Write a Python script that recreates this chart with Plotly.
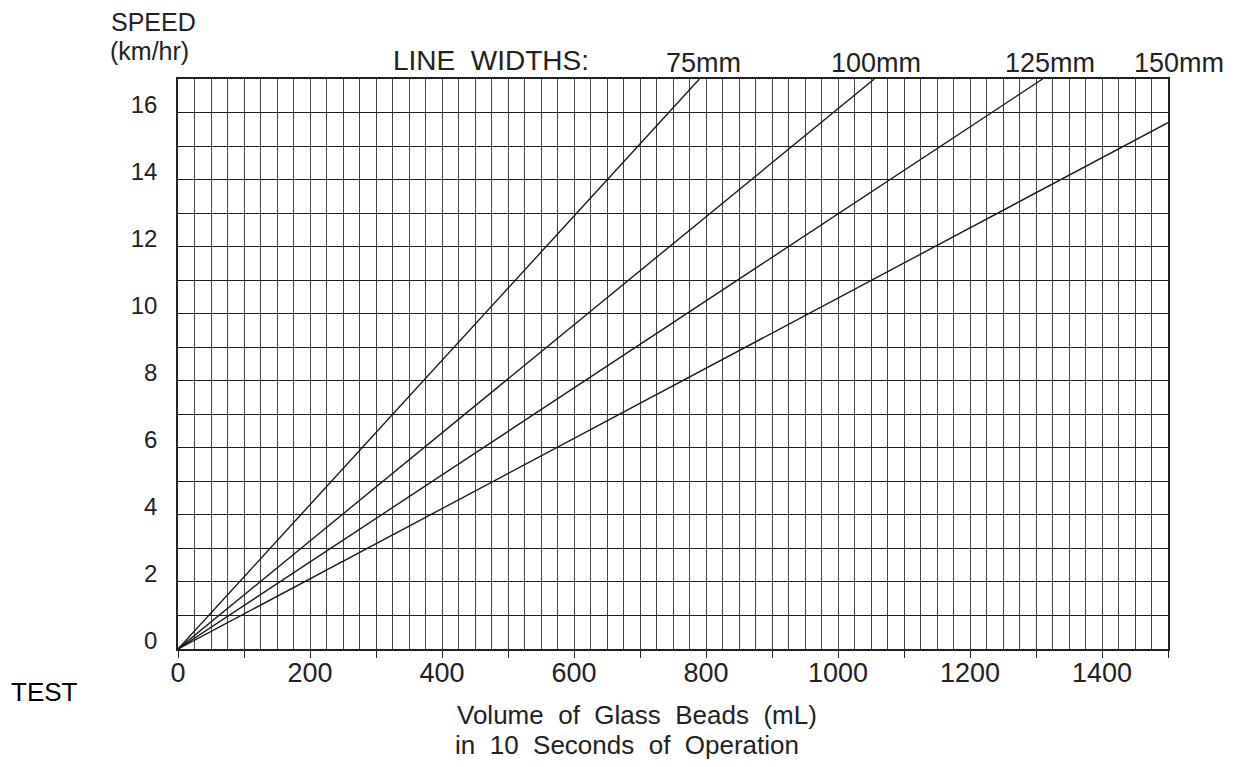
import plotly.graph_objects as go

# ---- data ----
line_widths = ["75mm", "100mm", "125mm", "150mm"]
volume_start = [0, 0, 0, 0]
speed_start = [0, 0, 0, 0]
volume_end = [790, 1055, 1310, 1500]
speed_end = [17, 17, 17, 15.7]

x_tick_values = [0, 100, 200, 300, 400, 500, 600, 700, 800, 900, 1000, 1100, 1200, 1300, 1400, 1500]
x_tick_labels = ["0", "", "200", "", "400", "", "600", "", "800", "", "1000", "", "1200", "", "1400", ""]
y_tick_values = [0, 2, 4, 6, 8, 10, 12, 14, 16]
y_tick_labels = ["0", "2", "4", "6", "8", "10", "12", "14", "16"]

# page geometry (the page body adds an 8px offset)
PAGE_W, PAGE_H, OFF = 1238, 767, 8
W, H = PAGE_W - OFF, PAGE_H - OFF
plot_left, plot_right, plot_top, plot_bottom = 178, 1168, 79, 649   # page pixels
L = plot_left - OFF
T = plot_top - OFF
R = W - (plot_right - OFF)
B = H - (plot_bottom - OFF)
INK = "#222222"
FONT = "Liberation Sans, Arial, Helvetica, sans-serif"


def px(x):
    return (x - OFF - L) / (W - L - R)


def py(y):
    return (H - B - (y - OFF)) / (H - T - B)


fig = go.Figure()
for name, x0, y0, x1, y1 in zip(line_widths, volume_start, speed_start, volume_end, speed_end):
    fig.add_trace(go.Scatter(
        x=[x0, x1], y=[y0, y1], mode="lines", name=name,
        line=dict(color="#1a1a1a", width=1.4), showlegend=False, hoverinfo="skip",
    ))

annotations = []
annotations.append(dict(text="SPEED", x=px(109), y=py(22), xanchor="left", yanchor="middle",
                        font=dict(size=25, color=INK, family=FONT)))
annotations.append(dict(text="(km/hr)", x=px(108), y=py(51), xanchor="left", yanchor="middle",
                        font=dict(size=25, color=INK, family=FONT)))
annotations.append(dict(text="LINE  WIDTHS:", x=px(491), y=py(61), xanchor="center", yanchor="middle",
                        font=dict(size=28, color=INK, family=FONT)))
label_x = [703, 876, 1050, 1179]
for name, lx in zip(line_widths, label_x):
    annotations.append(dict(text=name, x=px(lx), y=py(63), xanchor="center", yanchor="middle",
                            font=dict(size=27, color=INK, family=FONT)))
annotations.append(dict(text="Volume  of  Glass  Beads  (mL)", x=px(637), y=py(715), xanchor="center",
                        yanchor="middle", font=dict(size=26, color=INK, family=FONT)))
annotations.append(dict(text="in  10  Seconds  of  Operation", x=px(627), y=py(745), xanchor="center",
                        yanchor="middle", font=dict(size=26, color=INK, family=FONT)))
annotations.append(dict(text="TEST", x=px(9), y=py(692), xanchor="left", yanchor="middle",
                        font=dict(size=26, color="#000000", family="Arial, Liberation Sans, sans-serif")))
for a in annotations:
    a.update(xref="paper", yref="paper", showarrow=False)

fig.update_layout(
    width=W, height=H,
    margin=dict(l=L, r=R, t=T, b=B, autoexpand=False),
    paper_bgcolor="white", plot_bgcolor="white",
    font=dict(family=FONT, color=INK),
    annotations=annotations,
)
fig.update_xaxes(
    range=[0, 1500], tickmode="array", tickvals=x_tick_values, ticktext=x_tick_labels,
    ticks="outside", ticklen=7, tickcolor=INK, tickwidth=1.2,
    ticklabelstandoff=-8,
    tickfont=dict(size=27, color=INK, family=FONT),
    showgrid=False, zeroline=False,
    showline=True, linecolor=INK, linewidth=1.6, mirror=True,
    minor=dict(dtick=25, showgrid=True, gridcolor="#444444", gridwidth=1, ticks=""),
    fixedrange=True,
)
fig.update_yaxes(
    range=[0, 17], tickmode="array", tickvals=y_tick_values, ticktext=y_tick_labels,
    ticks="outside", ticklen=14, tickcolor="rgba(0,0,0,0)",
    ticklabelshift=-8,
    tickfont=dict(size=24, color=INK, family=FONT),
    showgrid=True, gridcolor="#1e1e1e", gridwidth=1.4, zeroline=False,
    showline=True, linecolor=INK, linewidth=1.6, mirror=True,
    minor=dict(dtick=1, showgrid=True, gridcolor="#1e1e1e", gridwidth=1.4, ticks=""),
    fixedrange=True,
)

fig.write_html("out.html")
